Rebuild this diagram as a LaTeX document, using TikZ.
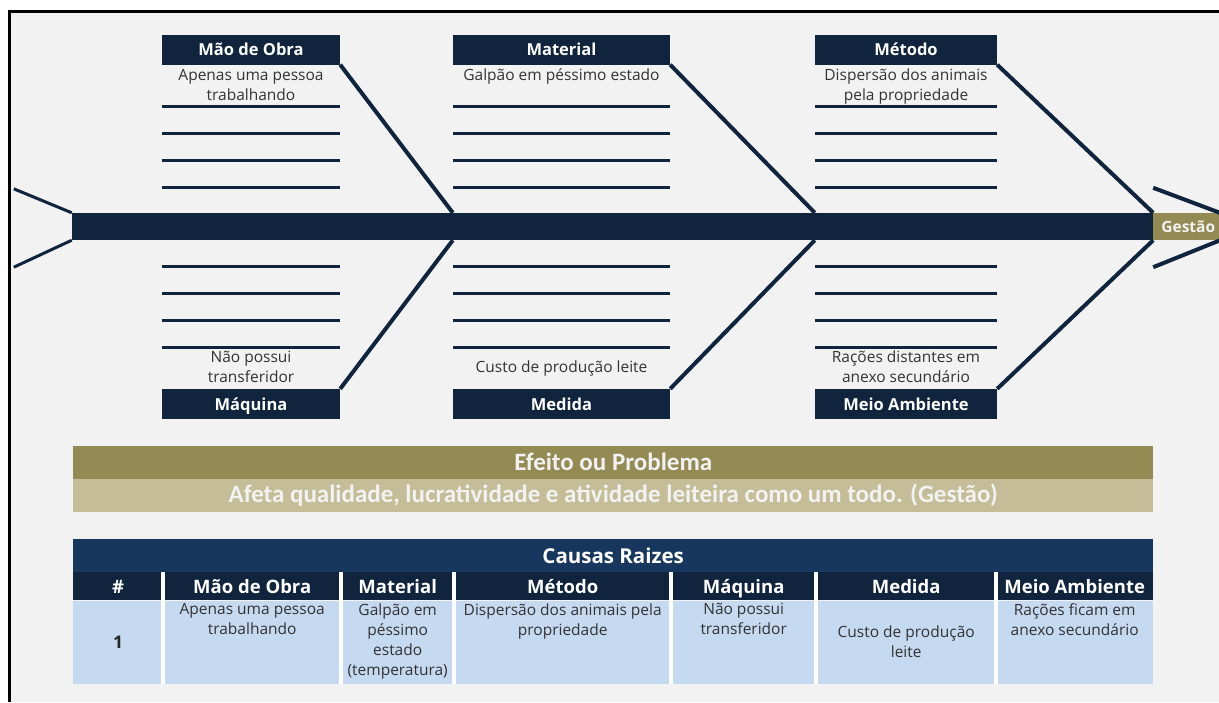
\documentclass[tikz,border=0pt]{standalone}
\usepackage{fontspec}
\setmainfont{Open Sans}
\newfontfamily\bandfont{Carlito}
\usetikzlibrary{positioning, calc}
\definecolor{cnavy}{HTML}{10243E}
\definecolor{ctitle}{HTML}{17375E}
\definecolor{colive}{HTML}{948A54}
\definecolor{csand}{HTML}{C4BD97}
\definecolor{cpale}{HTML}{C5D9F1}
\definecolor{cpaper}{HTML}{F2F2F2}
\definecolor{cink}{HTML}{333333}
\tikzset{
  every picture/.style={x=1pt, y=-1pt},
  catbox/.style={fill=cnavy, text=white, inner sep=0pt, minimum height=30pt, text height=13.5pt, text depth=1pt, font=\bfseries\fontsize{16.5}{18}\selectfont},
  bone/.style={draw=cnavy, line width=4pt},
  rule/.style={draw=cnavy, line width=3pt},
  cause/.style={text=cink, align=center, inner sep=0pt, font=\fontsize{15.5}{20}\selectfont},
  band/.style={fill=#1, minimum width=1080pt, minimum height=33pt, inner sep=0pt, text=cpaper, font=\bandfont\bfseries\fontsize{25}{28}\selectfont},
  headcell/.style={fill=cnavy, text=white, minimum height=28pt, inner sep=0pt, text height=15.5pt, text depth=0pt, font=\bfseries\fontsize{18.5}{20}\selectfont},
  datacell/.style={fill=cpale, minimum height=83pt, inner sep=0pt},
}

\begin{document}
\begin{tikzpicture}
  \useasboundingbox (0,0) rectangle (1219,702);
  \fill[cpaper] (11,13) rectangle (1219,702);
  \draw[line width=3pt] (9.5,702) -- (9.5,11.5) -- (1219,11.5);

  % spine with tail and head
  \node[fill=cnavy, minimum width=1081pt, minimum height=27pt, inner sep=0pt] (spine) at (612.5,226.5) {};
  \node[fill=colive, anchor=west, minimum height=27pt, text width=70pt, inner xsep=8pt, inner ysep=0pt, text=cpaper, font=\bfseries\fontsize{15.5}{18}\selectfont] (gestao) at (spine.east) {Gestão};
  \draw[bone, line width=3pt] (spine.north west) -- ++(-58,-24);
  \draw[bone, line width=3pt] (spine.south west) -- ++(-58,27);
  \draw[bone] ($(spine.north east)+(0,-25)$) -- ++(72,27);
  \draw[bone] ($(spine.south east)+(0,27)$) -- ++(72,-29);

  % categories
  \foreach \n/\xl/\xr/\lab in {mao/162/340/{Mão de Obra}, material/453/670/Material, metodo/815/997/{Método}} {
    \node[catbox, minimum width={\xr-\xl}] (\n) at ({(\xl+\xr)/2},49.5) {\lab};
    \foreach \y in {106,133,160,187}
      \draw[rule] (\xl,\y) -- (\xr,\y);
  }
  \foreach \n/\xl/\xr/\lab in {maquina/162/340/{Máquina}, medida/453/670/Medida, ambiente/815/997/{Meio Ambiente}} {
    \node[catbox, minimum width={\xr-\xl}] (\n) at ({(\xl+\xr)/2},404) {\lab};
    \foreach \y in {266,293,320,347}
      \draw[rule] (\xl,\y) -- (\xr,\y);
  }
  \draw[bone] (mao.south east) -- (spine.north -| material.west);
  \draw[bone] (material.south east) -- (spine.north -| metodo.west);
  \draw[bone] (metodo.south east) -- (spine.north east);
  \draw[bone] (maquina.north east) -- (spine.south -| medida.west);
  \draw[bone] (medida.north east) -- (spine.south -| ambiente.west);
  \draw[bone] (ambiente.north east) -- (spine.south east);

  \node[cause, below=4pt of mao] (c1) {Apenas uma pessoa\\trabalhando};
  \node[cause, below=4pt of material] (c2) {Galpão em péssimo estado};
  \node[cause, below=4pt of metodo] (c3) {Dispersão dos animais\\pela propriedade};
  \node[cause] (c4) at (251,367) {Não possui\\transferidor};
  \node[cause] (c5) at (561.5,368) {Custo de produção leite};
  \node[cause] (c6) at (906,367) {Rações distantes em\\anexo secundário};

  % effect
  \node[band=colive, anchor=north west] (efeito) at (73,445.5) {Efeito ou Problema};
  \node[band=csand, below=0pt of efeito] (afeta) {Afeta qualidade, lucratividade e atividade leiteira como um todo. (Gestão)};

  % root causes table
  \node[fill=ctitle, anchor=north west, minimum width=1080pt, minimum height=33pt, inner sep=0pt, text=white, font=\bfseries\fontsize{20.5}{24}\selectfont] (causas) at (73,539) {Causas Raizes};
  \foreach \i/\xl/\xr/\lab in {1/73/163/\#, 2/163/341/{Mão de Obra}, 3/341/454/Material, 4/454/671/{Método}, 5/671/816/{Máquina}, 6/816/996/Medida, 7/996/1153/{Meio Ambiente}} {
    \node[headcell, minimum width={\xr-\xl}, anchor=north west] (h\i) at (\xl,572) {\lab};
    \node[datacell, minimum width={\xr-\xl}, below=0pt of h\i] (d\i) {};
  }
  \foreach \i in {2,...,7}
    \draw[white, line width=4pt] (h\i.north west) -- (d\i.south west);

  \node[cause, text=black!85, font=\bfseries\fontsize{17.5}{20}\selectfont] (t1) at (d1) {1};
  \node[cause, below=3pt of d2.north] (t2) {Apenas uma pessoa\\trabalhando};
  \node[cause, below=3pt of d3.north] (t3) {Galpão em\\péssimo\\estado\\(temperatura)};
  \node[cause, below=3pt of d4.north] (t4) {Dispersão dos animais pela\\propriedade};
  \node[cause, below=3pt of d5.north] (t5) {Não possui\\transferidor};
  \node[cause] (t6) at (d6) {Custo de produção\\leite};
  \node[cause, below=3pt of d7.north] (t7) {Rações ficam em\\anexo secundário};
\end{tikzpicture}
\end{document}
